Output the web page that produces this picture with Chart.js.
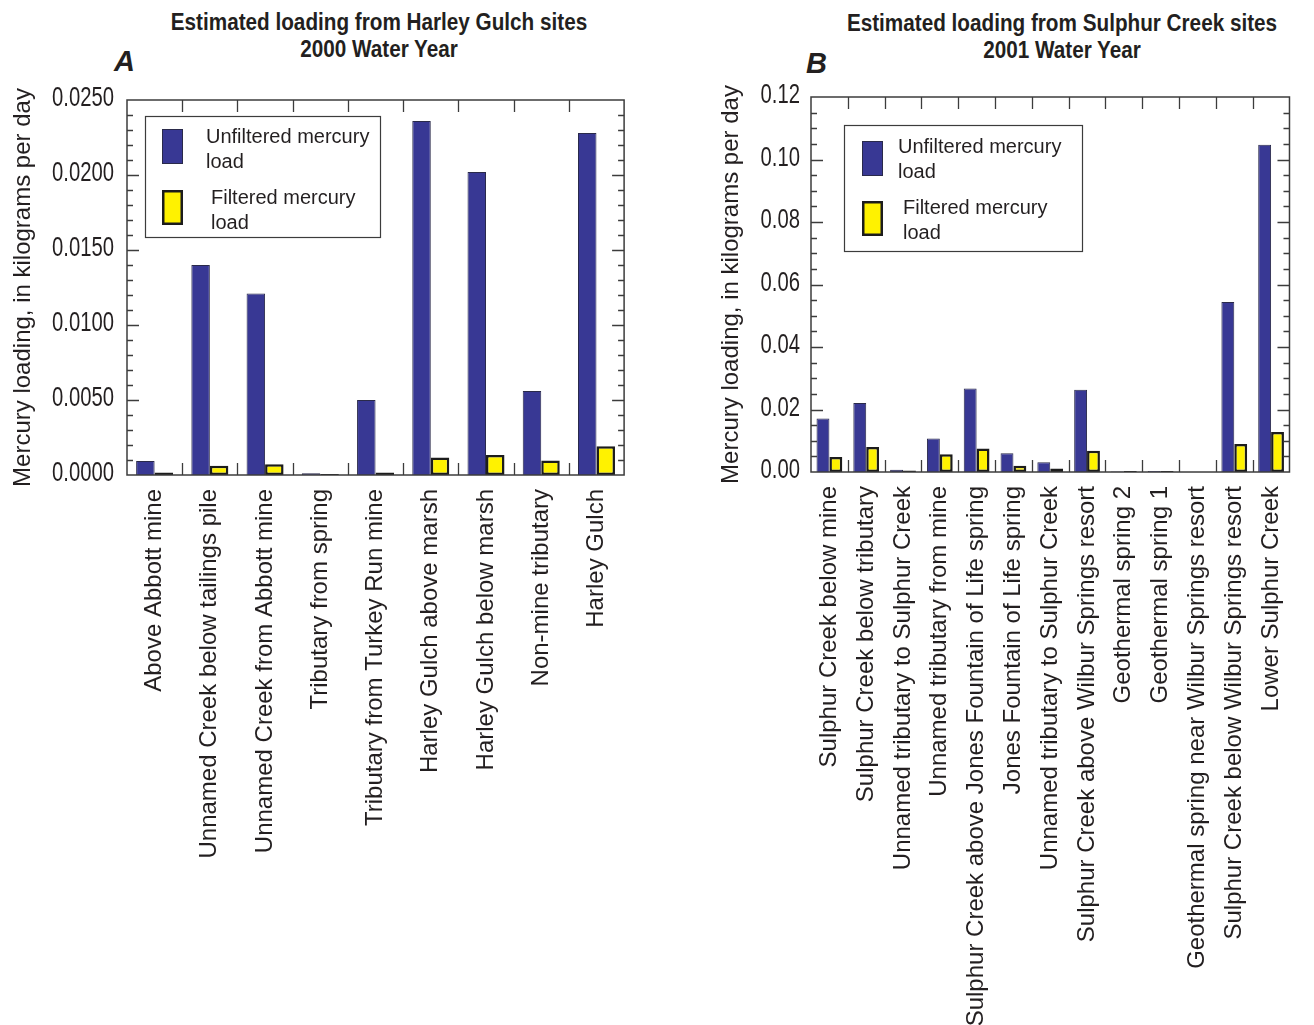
<!DOCTYPE html>
<html>
<head>
<meta charset="utf-8">
<script src="https://cdn.jsdelivr.net/npm/chart.js@4"></script>
<style>
body { margin: 0; background: #fff; }
#wrap { position: relative; width: 1314px; height: 1025px; overflow: hidden; }
canvas { position: absolute; top: 0; }
.title {
    position: absolute; transform: translateX(-50%) scaleX(0.9);
    font-family: "Liberation Sans", Arial, sans-serif;
    font-weight: bold; font-size: 23px; line-height: 27px;
    text-align: center; white-space: nowrap; color: #231f20;
}
.panel {
    position: absolute;
    font-family: "Liberation Sans", Arial, sans-serif;
    font-weight: bold; font-style: italic; font-size: 29px; color: #231f20;
}
</style>
</head>
<body>
<div id="wrap">
    <div class="title" style="left:379px; top:9px">Estimated loading from Harley Gulch sites<br>2000 Water Year</div>
    <div class="title" style="left:1062px; top:10px">Estimated loading from Sulphur Creek sites<br>2001 Water Year</div>
    <div class="panel" style="left:114px; top:45px">A</div>
    <div class="panel" style="left:806px; top:47px">B</div>
    <canvas id="chart_a" width="640" height="1025" style="left:0"></canvas>
    <canvas id="chart_b" width="674" height="1025" style="left:640px"></canvas>
</div>
<script>
// Panel A - Harley Gulch, 2000 water year (kilograms per day)
const harleySites = [
    'Above Abbott mine',
    'Unnamed Creek below tailings pile',
    'Unnamed Creek from Abbott mine',
    'Tributary from spring',
    'Tributary from Turkey Run mine',
    'Harley Gulch above marsh',
    'Harley Gulch below marsh',
    'Non-mine tributary',
    'Harley Gulch'
];
const harleyUnfiltered = [0.00093, 0.0140, 0.0121, 0.00011, 0.0050, 0.0236, 0.0202, 0.0056, 0.0228];
const harleyFiltered = [0.00016, 0.00062, 0.00071, 0.00007, 0.00016, 0.00116, 0.00133, 0.00096, 0.00191];
const harleyTickValues = [0, 0.005, 0.010, 0.015, 0.020, 0.025];

// Panel B - Sulphur Creek, 2001 water year (kilograms per day)
const sulphurSites = [
    'Sulphur Creek below mine',
    'Sulphur Creek below tributary',
    'Unnamed tributary to Sulphur Creek',
    'Unnamed tributary from mine',
    'Sulphur Creek above Jones Fountain of Life spring',
    'Jones Fountain of Life spring',
    'Unnamed tributary to Sulphur Creek',
    'Sulphur Creek above Wilbur Springs resort',
    'Geothermal spring 2',
    'Geothermal spring 1',
    'Geothermal spring near Wilbur Springs resort',
    'Sulphur Creek below Wilbur Springs resort',
    'Lower Sulphur Creek'
];
const sulphurUnfiltered = [0.0171, 0.0221, 0.0007, 0.0107, 0.0267, 0.0060, 0.0031, 0.0263, 0.0002, 0.0003, 0, 0.0544, 0.1047];
const sulphurFiltered = [0.0048, 0.0080, 0.0005, 0.0057, 0.0075, 0.0020, 0.0011, 0.0068, 0.0003, 0.0003, 0, 0.0090, 0.0128];
const sulphurTickValues = [0, 0.02, 0.04, 0.06, 0.08, 0.10, 0.12];

const seriesNames = ['Unfiltered mercury load', 'Filtered mercury load'];

const INK = '#231f20';
const FRAME = '#3c3c3c';
const SANS = '"Liberation Sans", Arial, sans-serif';

// frame, inward ticks, condensed tick labels and the boxed legend
const framePlugin = {
    id: 'frame',
    afterDatasetsDraw(chart, args, o) {
        const {ctx, chartArea: a, scales: {x, y}} = chart;
        ctx.save();
        ctx.strokeStyle = FRAME;
        ctx.lineWidth = 1.5;
        ctx.strokeRect(a.left, a.top, a.width, a.height);

        ctx.lineWidth = 1.3;
        ctx.beginPath();
        const n = Math.round((y.max - y.min) / o.minor);
        for (let i = 1; i < n; i++) {
            const v = y.min + i * o.minor;
            const py = Math.round(y.getPixelForValue(v)) + 0.5;
            const r = v / o.major;
            const len = Math.abs(r - Math.round(r)) < 1e-6 ? 12 : 6;
            ctx.moveTo(a.left, py); ctx.lineTo(a.left + len, py);
            ctx.moveTo(a.right, py); ctx.lineTo(a.right - len, py);
        }
        for (let i = 0; i < chart.data.labels.length - 1; i++) {
            const px = Math.round((x.getPixelForValue(i) + x.getPixelForValue(i + 1)) / 2) + 0.5;
            ctx.moveTo(px, a.top); ctx.lineTo(px, a.top + 12);
            ctx.moveTo(px, a.bottom); ctx.lineTo(px, a.bottom - 12);
        }
        ctx.stroke();

        // y tick labels, squeezed to look like the condensed face of the original
        ctx.fillStyle = INK;
        ctx.font = '27px ' + SANS;
        ctx.textAlign = 'right';
        ctx.textBaseline = 'middle';
        o.tickValues.forEach(v => {
            ctx.save();
            ctx.translate(a.left - o.labelGap, y.getPixelForValue(v) - 1);
            ctx.scale(0.75, 1);
            ctx.fillText(v.toFixed(o.decimals), 0, 0);
            ctx.restore();
        });

        // legend
        const L = o.legend;
        const bx = a.left + L.x, by = a.top + L.y;
        ctx.fillStyle = '#fff';
        ctx.fillRect(bx, by, L.w, L.h);
        ctx.strokeStyle = FRAME;
        ctx.lineWidth = 1.2;
        ctx.strokeRect(bx + 0.5, by + 0.5, L.w, L.h);
        ctx.font = '20px ' + SANS;
        ctx.textAlign = 'left';
        chart.data.datasets.forEach((ds, i) => {
            const it = L.items[i];
            const bw = ds.borderWidth;
            ctx.fillStyle = ds.borderColor;
            ctx.fillRect(bx + it.sx, by + it.sy, 21, 35);
            ctx.fillStyle = ds.backgroundColor;
            ctx.fillRect(bx + it.sx + bw, by + it.sy + bw, 21 - 2 * bw, 35 - 2 * bw);
            const cut = ds.label.lastIndexOf(' ');
            ctx.fillStyle = INK;
            ctx.fillText(ds.label.slice(0, cut), bx + it.tx, by + it.ty);
            ctx.fillText(ds.label.slice(cut + 1), bx + it.tx, by + it.ty + 25);
        });
        ctx.restore();
    }
};

function makeChart(id, labels, unfiltered, filtered, cfg) {
    const data = {
        labels,
        datasets: [{
            label: seriesNames[0],
            data: unfiltered,
            backgroundColor: '#383894',
            borderColor: '#2a2a4a',
            borderWidth: 1,
            borderSkipped: 'start'
        }, {
            label: seriesNames[1],
            data: filtered,
            backgroundColor: '#fff200',
            borderColor: '#1c1c1c',
            borderWidth: 2.5,
            borderSkipped: false
        }]
    };
    const ticks = cfg.tickValues;
    return new Chart(document.getElementById(id), {
        type: 'bar',
        data,
        plugins: [framePlugin],
        options: {
            responsive: false,
            animation: false,
            events: [],
            categoryPercentage: cfg.catPct,
            barPercentage: 1,
            layout: {padding: {left: cfg.padLeft, right: cfg.padRight, top: cfg.top, bottom: 0}},
            plugins: {
                legend: {display: false},
                tooltip: {enabled: false},
                frame: {
                    minor: cfg.minor, major: ticks[1], tickValues: ticks,
                    decimals: cfg.decimals, labelGap: cfg.labelGap, legend: cfg.legend
                }
            },
            scales: {
                x: {
                    grid: {display: false, drawTicks: false},
                    border: {display: false},
                    ticks: {
                        font: {family: SANS, size: 24},
                        color: INK,
                        minRotation: 90,
                        maxRotation: 90,
                        autoSkip: false,
                        padding: 14
                    },
                    afterFit: s => { s.height = 1025 - cfg.bottom; }
                },
                y: {
                    min: ticks[0],
                    max: ticks[ticks.length - 1],
                    grid: {display: false, drawTicks: false},
                    border: {display: false},
                    ticks: {display: false, stepSize: ticks[1] - ticks[0]},
                    title: {
                        display: true,
                        text: 'Mercury loading, in kilograms per day',
                        font: {family: SANS, size: 24},
                        color: INK,
                        padding: {top: 9, bottom: 0}
                    },
                    afterFit: s => { s.width = cfg.yWidth; }
                }
            }
        }
    });
}

document.addEventListener('DOMContentLoaded', () => {
    makeChart('chart_a', harleySites, harleyUnfiltered, harleyFiltered, {
        tickValues: harleyTickValues, minor: 0.001, decimals: 4, catPct: 0.67, labelGap: 13,
        padLeft: 0, padRight: 13, yWidth: 127, top: 100, bottom: 475,
        legend: {x: 18, y: 16, w: 235, h: 121, items: [
            {sx: 17, sy: 13, tx: 61, ty: 21},
            {sx: 17, sy: 74, tx: 66, ty: 82}
        ]}
    });
    makeChart('chart_b', sulphurSites, sulphurUnfiltered, sulphurFiltered, {
        tickValues: sulphurTickValues, minor: 0.005, decimals: 2, catPct: 0.70, labelGap: 11,
        padLeft: 68, padRight: 3, yWidth: 103, top: 97, bottom: 472,
        legend: {x: 33, y: 28, w: 238, h: 126, items: [
            {sx: 18, sy: 16, tx: 54, ty: 22},
            {sx: 18, sy: 76, tx: 59, ty: 83}
        ]}
    });
});
</script>
</body>
</html>
